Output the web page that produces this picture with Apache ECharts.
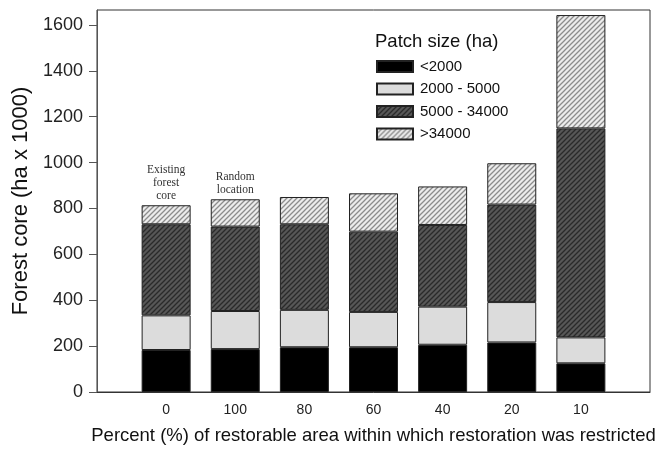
<!DOCTYPE html>
<html>
<head>
<meta charset="utf-8">
<script src="https://cdn.jsdelivr.net/npm/echarts@6/dist/echarts.min.js"></script>
<style>
  html, body { margin: 0; padding: 0; background: #fff; }
  #chart { width: 669px; height: 450px; }
</style>
</head>
<body>
<div id="chart"></div>
<script>
// x axis: empty slot at each end, bars sit on the 7 middle ticks
var categories = ['', '0', '100', '80', '60', '40', '20', '10', ''];
var seriesNames = ['<2000', '2000 - 5000', '5000 - 34000', '>34000'];
var under2000 = [183, 187, 195, 195, 206, 216, 125];
var from2000to5000 = [151, 166, 163, 154, 166, 176, 113];
var from5000to34000 = [397, 368, 373, 350, 356, 425, 911];
var over34000 = [83, 119, 119, 167, 168, 180, 494];
var annotations = ['Existing\nforest\ncore', 'Random\nlocation', '', '', '', '', ''];

// diagonal hatch fill drawn on a small tile
function hatch(bg, line, size, width) {
    var c = document.createElement('canvas');
    c.width = size;
    c.height = size;
    var ctx = c.getContext('2d');
    ctx.fillStyle = bg;
    ctx.fillRect(0, 0, size, size);
    ctx.strokeStyle = line;
    ctx.lineWidth = width;
    ctx.beginPath();
    ctx.moveTo(0, size); ctx.lineTo(size, 0);
    ctx.moveTo(-1, 1); ctx.lineTo(1, -1);
    ctx.moveTo(size - 1, size + 1); ctx.lineTo(size + 1, size - 1);
    ctx.stroke();
    return { image: c, repeat: 'repeat' };
}

function pad(arr) {
    return ['-'].concat(arr, ['-']);
}

var fills = [
    '#000000',
    '#dcdcdc',
    hatch('#575757', '#2a2a2a', 5, 1.3),
    hatch('#ececec', '#8c8c8c', 5, 1.3)
];
var values = [under2000, from2000to5000, from5000to34000, over34000];

var series = values.map(function (vals, i) {
    var data = pad(vals);
    if (i === 3) {
        data = data.map(function (v, j) {
            var txt = j > 0 && j < 8 ? annotations[j - 1] : '';
            if (!txt) return v;
            return {
                value: v,
                label: {
                    show: true,
                    position: 'top',
                    distance: 3,
                    formatter: txt,
                    fontFamily: 'Liberation Serif',
                    fontSize: 11.5,
                    lineHeight: 13,
                    color: '#333'
                }
            };
        });
    }
    return {
        name: seriesNames[i],
        type: 'bar',
        stack: 'core',
        barWidth: 49,
        data: data,
        itemStyle: {
            color: fills[i],
            borderColor: '#222',
            borderWidth: 1
        }
    };
});

var option = {
    animation: false,
    backgroundColor: '#fff',
    textStyle: { fontFamily: 'Liberation Sans' },
    title: {
        text: 'Patch size (ha)',
        left: 375,
        top: 32,
        padding: 0,
        textStyle: { fontSize: 18.5, fontWeight: 'normal', color: '#111', fontFamily: 'Liberation Sans' }
    },
    legend: {
        orient: 'vertical',
        left: 376,
        top: 59,
        padding: 0,
        itemWidth: 36,
        itemHeight: 11,
        itemGap: 7.5,
        icon: 'rect',
        textStyle: { fontSize: 15, color: '#111', padding: [0, 0, 0, 2] },
        data: seriesNames
    },
    grid: {
        left: 97,
        right: 19,
        top: 10,
        bottom: 55,
        show: true,
        borderColor: '#333',
        borderWidth: 1
    },
    xAxis: {
        type: 'category',
        data: categories,
        boundaryGap: false,
        name: 'Percent (%) of restorable area within which restoration was restricted',
        nameLocation: 'middle',
        nameGap: 34,
        nameTextStyle: { fontSize: 18.5, color: '#111' },
        axisLine: { lineStyle: { color: '#333' } },
        axisTick: { show: false },
        axisLabel: { fontSize: 14, color: '#222', margin: 11, interval: 0 },
        splitLine: { show: false }
    },
    yAxis: {
        type: 'value',
        min: 0,
        max: 1665,
        interval: 200,
        name: 'Forest core (ha x 1000)',
        nameLocation: 'middle',
        nameGap: 60,
        nameTextStyle: { fontSize: 22, color: '#111' },
        axisLine: { show: true, lineStyle: { color: '#555' } },
        axisTick: { show: true, length: 8, lineStyle: { color: '#555' } },
        axisLabel: {
            fontSize: 18,
            color: '#222',
            margin: 14,
            showMaxLabel: false,
            formatter: function (v) { return String(v); }
        },
        splitLine: { show: false }
    },
    series: series
};

var chart = echarts.init(document.getElementById('chart'));
chart.setOption(option);
</script>
</body>
</html>
